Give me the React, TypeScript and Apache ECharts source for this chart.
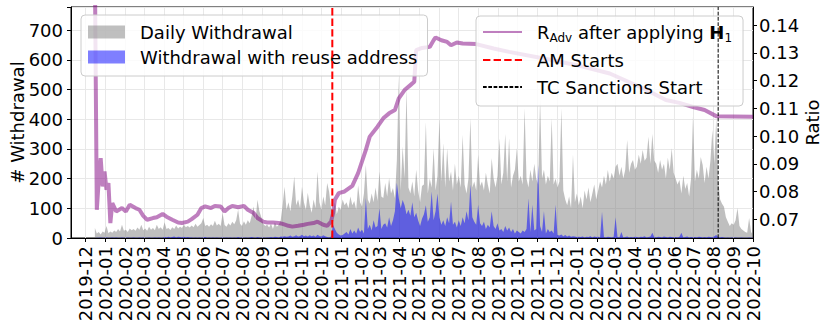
import React, { useEffect, useRef } from 'react';
import * as echarts from 'echarts';

// ---- axis domain ----
const AXIS_START = '2019-11-09';
const AXIS_END = '2022-10-01';
// daily-withdrawal samples: one value every STEP_DAYS days from SERIES_START
const SERIES_START = '2019-12-16';
const STEP_DAYS = 3;

const GRAY_NAME = 'Daily Withdrawal';
const BLUE_NAME = 'Withdrawal with reuse address';
const RATIO_NAME = 'R_Adv after applying H_1';
const AM_NAME = 'AM Starts';
const TC_NAME = 'TC Sanctions Start';

const AM_START = '2020-12-18';
const TC_SANCTION = '2022-08-08';

const dailyWithdrawal = [
  34, 15, 20, 12, 22, 18, 40, 16, 22, 18,
  25, 20, 30, 22, 45, 24, 28, 20, 32, 26,
  30, 24, 35, 28, 45, 26, 32, 24, 38, 28,
  34, 26, 45, 30, 36, 28, 53, 30, 34, 27,
  36, 30, 42, 32, 38, 34, 45, 36, 40, 35,
  42, 36, 48, 38, 44, 50, 67, 40, 45, 38,
  46, 40, 58, 42, 48, 40, 84, 44, 38, 50,
  42, 55, 46, 60, 95, 48, 40, 56, 45, 60,
  50, 75, 106, 60, 129, 90, 70, 48, 40, 45,
  35, 48, 30, 52, 38, 45, 60, 110, 173, 95,
  120, 90, 140, 207, 110, 130, 100, 173, 120, 95,
  152, 110, 85, 130, 100, 224, 120, 95, 140, 110,
  185, 157, 100, 90, 120, 80, 105, 95, 130, 110,
  120, 100, 140, 110, 125, 95, 178, 120, 105, 150,
  246, 130, 115, 150, 120, 170, 125, 224, 140, 135,
  185, 140, 202, 150, 168, 135, 260, 543, 160, 308,
  200, 504, 170, 150, 190, 140, 230, 160, 120, 175,
  180, 390, 150, 200, 170, 302, 160, 210, 403, 190,
  319, 170, 302, 190, 224, 160, 250, 180, 210, 170,
  347, 180, 150, 200, 403, 170, 190, 160, 280, 175,
  190, 160, 220, 180, 150, 269, 200, 170, 210, 336,
  180, 220, 350, 190, 336, 170, 210, 230, 302, 190,
  210, 180, 437, 200, 170, 230, 190, 250, 200, 180,
  470, 200, 230, 180, 210, 190, 403, 180, 200, 170,
  190, 437, 160, 130, 110, 140, 100, 280, 120, 150,
  110, 140, 100, 160, 130, 170, 120, 150, 180, 130,
  160, 190, 170, 210, 180, 229, 190, 220, 200, 240,
  250, 210, 240, 200, 230, 330, 220, 250, 263, 230,
  240, 280, 250, 296, 260, 270, 341, 250, 350, 260,
  250, 220, 263, 230, 250, 200, 270, 230, 302, 220,
  200, 180, 195, 150, 210, 165, 185, 140, 200, 409,
  190, 230, 200, 273, 246, 185, 240, 200, 260, 364,
  250, 403, 200, 130, 115, 105, 70, 55, 40, 50,
  45, 60, 101, 40, 30, 25, 20, 18, 67, 20, 10,
];

const reuseWithdrawal = [
  0, 1, 1, 2, 1, 1, 2, 1, 1, 2,
  1, 2, 1, 1, 2, 1, 1, 2, 1, 1,
  2, 1, 1, 2, 1, 2, 1, 1, 2, 1,
  1, 2, 1, 2, 1, 1, 3, 2, 4, 2,
  3, 5, 2, 4, 3, 2, 4, 2, 3, 2,
  2, 1, 2, 1, 2, 1, 2, 3, 1, 2,
  1, 2, 1, 2, 1, 1, 2, 1, 2, 1,
  2, 1, 2, 1, 3, 1, 2, 1, 2, 1,
  2, 3, 2, 1, 3, 2, 1, 2, 1, 2,
  2, 3, 2, 4, 3, 2, 5, 4, 6, 4,
  5, 8, 4, 6, 9, 5, 7, 11, 6, 8,
  5, 9, 6, 8, 4, 11, 7, 5, 9, 6,
  3, 2, 5, 45, 30, 18, 12, 8, 10, 15,
  20, 12, 30, 15, 25, 14, 35, 20, 28, 15,
  135, 30, 45, 25, 60, 35, 40, 100, 30, 45,
  50, 35, 70, 40, 60, 90, 186, 134, 100, 128,
  110, 80, 95, 75, 120, 70, 85, 60, 40, 65,
  80, 110, 55, 70, 157, 60, 90, 150, 70, 45,
  60, 40, 70, 50, 123, 45, 55, 35, 60, 40,
  70, 50, 90, 60, 180, 70, 55, 45, 112, 50,
  40, 55, 30, 45, 35, 90, 40, 30, 50, 25,
  30, 20, 40, 25, 35, 20, 30, 15, 25, 20,
  15, 25, 20, 30, 134, 20, 112, 25, 30, 246,
  40, 20, 90, 15, 30, 20, 25, 15, 112, 10,
  8, 12, 6, 10, 5, 8, 4, 6, 5, 3,
  4, 3, 5, 2, 4, 3, 6, 2, 5, 3,
  4, 2, 88, 3, 2, 4, 3, 2, 3, 70,
  3, 2, 20, 2, 3, 5, 2, 3, 2, 4,
  3, 2, 4, 3, 6, 2, 3, 5, 18, 3,
  2, 4, 3, 2, 5, 3, 2, 4, 3, 2,
  3, 2, 4, 18, 2, 3, 5, 2, 3, 2,
  3, 2, 4, 3, 2, 3, 2, 4, 3, 2,
  6, 10, 3, 2, 3, 2, 1, 2, 1, 2,
  1, 2, 1, 1, 2, 1, 1, 1, 2, 1, 1,
];

// ratio readings: sample step index (same 3-day grid) and value
const ratioSteps = [
  0, 1, 2, 3, 4, 5, 6, 7, 8, 9,
  11, 14, 16, 18, 21, 23, 25, 27, 30, 32,
  35, 37, 40, 43, 45, 48, 50, 53, 55, 57,
  60, 62, 65, 67, 69, 71, 74, 77, 79, 82,
  84, 87, 89, 92, 95, 97, 100, 102, 105, 108,
  110, 113, 115, 118, 120, 122, 123, 124, 126, 129,
  133, 136, 140, 142, 146, 149, 152, 155, 157, 160,
  163, 165, 166, 169, 173, 175, 176, 179, 182, 184,
  187, 190, 197, 206, 214, 232, 249, 266, 284, 295,
  302, 309, 315, 321, 330, 340,
];
const ratioValues = [
  0.16, 0.0734, 0.0842, 0.092, 0.0818, 0.0872, 0.0806, 0.083, 0.0686, 0.0758,
  0.0728, 0.074, 0.0728, 0.0752, 0.074, 0.0734, 0.0712, 0.0698, 0.0704, 0.0707,
  0.0719, 0.0709, 0.0698, 0.0688, 0.0686, 0.0691, 0.07, 0.0716, 0.074, 0.0746,
  0.074, 0.0748, 0.0746, 0.0728, 0.074, 0.0748, 0.0743, 0.0748, 0.0734, 0.0722,
  0.0704, 0.0691, 0.0688, 0.0688, 0.0686, 0.0683, 0.0676, 0.0673, 0.0676, 0.068,
  0.0683, 0.0686, 0.0691, 0.068, 0.0676, 0.0691, 0.072, 0.077, 0.0794, 0.08,
  0.082, 0.0866, 0.095, 0.0998, 0.1034, 0.1064, 0.1082, 0.1094, 0.1136, 0.1166,
  0.1184, 0.1196, 0.131, 0.1318, 0.1322, 0.1346, 0.1356, 0.1346, 0.134, 0.1328,
  0.1338, 0.1334, 0.1332, 0.1316, 0.1304, 0.128, 0.1256, 0.1226, 0.117, 0.113,
  0.112, 0.1105, 0.1094, 0.1072, 0.1071, 0.107,
];

const ratioTicks = [0.07, 0.08, 0.09, 0.1, 0.11, 0.12, 0.13, 0.14];
const LEFT_MAX = 778;
const RIGHT_MIN = 0.0632;
const RIGHT_MAX = 0.1466;

const FONT = "'DejaVu Sans', sans-serif";

function addDays(s: string, n: number): string {
  const d = new Date(s + 'T00:00:00Z');
  d.setUTCDate(d.getUTCDate() + n);
  return d.toISOString().slice(0, 10);
}

function buildCategories(): string[] {
  const out: string[] = [];
  let cur = AXIS_START;
  let i = 0;
  while (cur <= AXIS_END) {
    out.push(cur);
    i += 1;
    cur = addDays(AXIS_START, i);
  }
  return out;
}

const isMonthStart = (_idx: number, value: string) => value.endsWith('-01');

export default function App() {
  const ref = useRef<HTMLDivElement>(null);

  useEffect(() => {
    if (!ref.current) return;
    const chart = echarts.init(ref.current, undefined, { renderer: 'svg' });
    const categories = buildCategories();
    const grayData = dailyWithdrawal.map((v, k) => [addDays(SERIES_START, k * STEP_DAYS), v]);
    const blueData = reuseWithdrawal.map((v, k) => [addDays(SERIES_START, k * STEP_DAYS), v]);
    const ratioData = ratioSteps.map((k, i) => [addDays(SERIES_START, k * STEP_DAYS), ratioValues[i]]);

    const legendText = { fontSize: 18, fontFamily: FONT, color: '#000' };

    chart.setOption({
      animation: false,
      grid: { left: 71, right: 78, top: 7, bottom: 92, show: true, borderColor: '#000', borderWidth: 1, containLabel: false, outerBoundsMode: 'none' },
      legend: [
        {
          data: [{ name: GRAY_NAME, icon: 'rect' }, { name: BLUE_NAME, icon: 'rect' }],
          orient: 'vertical',
          left: 81,
          top: 15,
          itemWidth: 37,
          itemHeight: 13,
          itemGap: 5,
          padding: [7, 10, 9, 7],
          backgroundColor: 'rgba(255,255,255,0.8)',
          borderColor: '#cccccc',
          borderWidth: 1,
          borderRadius: 4,
          selectedMode: false,
          textStyle: { ...legendText, lineHeight: 20, padding: [0, 0, 0, 10] },
        },
        {
          data: [RATIO_NAME, AM_NAME, TC_NAME],
          orient: 'vertical',
          left: 476,
          top: 16,
          itemWidth: 39,
          itemHeight: 14,
          itemGap: 5,
          padding: [5, 11, 8, 6],
          backgroundColor: 'rgba(255,255,255,0.8)',
          borderColor: '#cccccc',
          borderWidth: 1,
          borderRadius: 4,
          selectedMode: false,
          itemStyle: { opacity: 0 },
          formatter: (name: string) =>
            name === RATIO_NAME ? '{n|R}{s|Adv}{n| after applying }{b|H}{s|1}' : name,
          textStyle: {
            ...legendText,
            lineHeight: 22,
            padding: [0, 0, 0, 10],
            rich: {
              n: { ...legendText, lineHeight: 22 },
              b: { ...legendText, fontWeight: 'bold', lineHeight: 22 },
              s: { fontSize: 12, fontFamily: FONT, color: '#000', padding: [12, 0, 0, 0] },
            },
          },
        },
      ],
      xAxis: {
        type: 'category',
        data: categories,
        boundaryGap: false,
        axisLine: { show: true, lineStyle: { color: '#000', width: 1 } },
        axisTick: { show: true, length: 4, interval: isMonthStart, lineStyle: { color: '#000' } },
        axisLabel: {
          interval: isMonthStart,
          rotate: 90,
          margin: 8,
          fontSize: 18,
          fontFamily: FONT,
          color: '#000',
          formatter: (v: string) => v.slice(0, 7),
        },
        splitLine: { show: true, interval: isMonthStart, lineStyle: { color: '#e8e8e8', width: 1 } },
      },
      yAxis: [
        {
          type: 'value',
          min: 0,
          max: LEFT_MAX,
          interval: 100,
          position: 'left',
          name: '# Withdrawal',
          nameLocation: 'middle',
          nameRotate: 90,
          nameGap: 45,
          nameMoveOverlap: false,
          nameTextStyle: { fontSize: 18, fontFamily: FONT, color: '#000' },
          axisLine: { show: true, lineStyle: { color: '#000' } },
          axisTick: { show: true, length: 4, lineStyle: { color: '#000' } },
          axisLabel: {
            fontSize: 18,
            fontFamily: FONT,
            color: '#000',
            margin: 8,
            formatter: (v: number) => (v % 100 === 0 ? String(v) : ''),
          },
          splitLine: { show: true, lineStyle: { color: '#e8e8e8', width: 1 } },
        },
        {
          type: 'value',
          min: RIGHT_MIN,
          max: RIGHT_MAX,
          position: 'right',
          name: 'Ratio',
          nameLocation: 'middle',
          nameRotate: 90,
          nameGap: 50,
          nameMoveOverlap: false,
          nameTextStyle: { fontSize: 18, fontFamily: FONT, color: '#000' },
          axisLine: { show: true, lineStyle: { color: '#000' } },
          axisTick: { show: true, length: 4, customValues: ratioTicks, lineStyle: { color: '#000' } },
          axisLabel: {
            customValues: ratioTicks,
            fontSize: 18,
            fontFamily: FONT,
            color: '#000',
            margin: 6,
            formatter: (v: number) => v.toFixed(2),
          },
          splitLine: { show: false },
        },
      ],
      series: [
        {
          name: GRAY_NAME,
          type: 'line',
          data: grayData,
          symbol: 'none',
          lineStyle: { width: 0 },
          itemStyle: { color: 'rgba(128,128,128,0.5)' },
          areaStyle: { color: 'rgba(128,128,128,0.5)', opacity: 1 },
          z: 1,
        },
        {
          name: BLUE_NAME,
          type: 'line',
          data: blueData,
          symbol: 'none',
          lineStyle: { width: 0 },
          itemStyle: { color: 'rgba(0,0,255,0.5)' },
          areaStyle: { color: 'rgba(0,0,255,0.5)', opacity: 1 },
          z: 2,
        },
        {
          name: RATIO_NAME,
          type: 'line',
          yAxisIndex: 1,
          data: ratioData,
          symbol: 'none',
          lineStyle: { width: 4, color: 'rgba(128,0,128,0.5)' },
          itemStyle: { color: 'rgba(128,0,128,0.5)' },
          z: 3,
        },
        {
          name: AM_NAME,
          type: 'line',
          data: [[AM_START, 0], [AM_START, LEFT_MAX]],
          symbol: 'none',
          lineStyle: { width: 2, color: '#ff0000', type: [7.4, 3.2] },
          itemStyle: { color: '#ff0000' },
          z: 4,
        },
        {
          name: TC_NAME,
          type: 'line',
          data: [[TC_SANCTION, 0], [TC_SANCTION, LEFT_MAX]],
          symbol: 'none',
          lineStyle: { width: 1, color: '#000', type: [3.7, 1.6] },
          itemStyle: { color: '#000' },
          z: 4,
        },
      ],
    });
    return () => chart.dispose();
  }, []);

  return (
    <div
      ref={ref}
      style={{ position: 'absolute', left: 0, top: 0, width: 831, height: 330 }}
    />
  );
}
